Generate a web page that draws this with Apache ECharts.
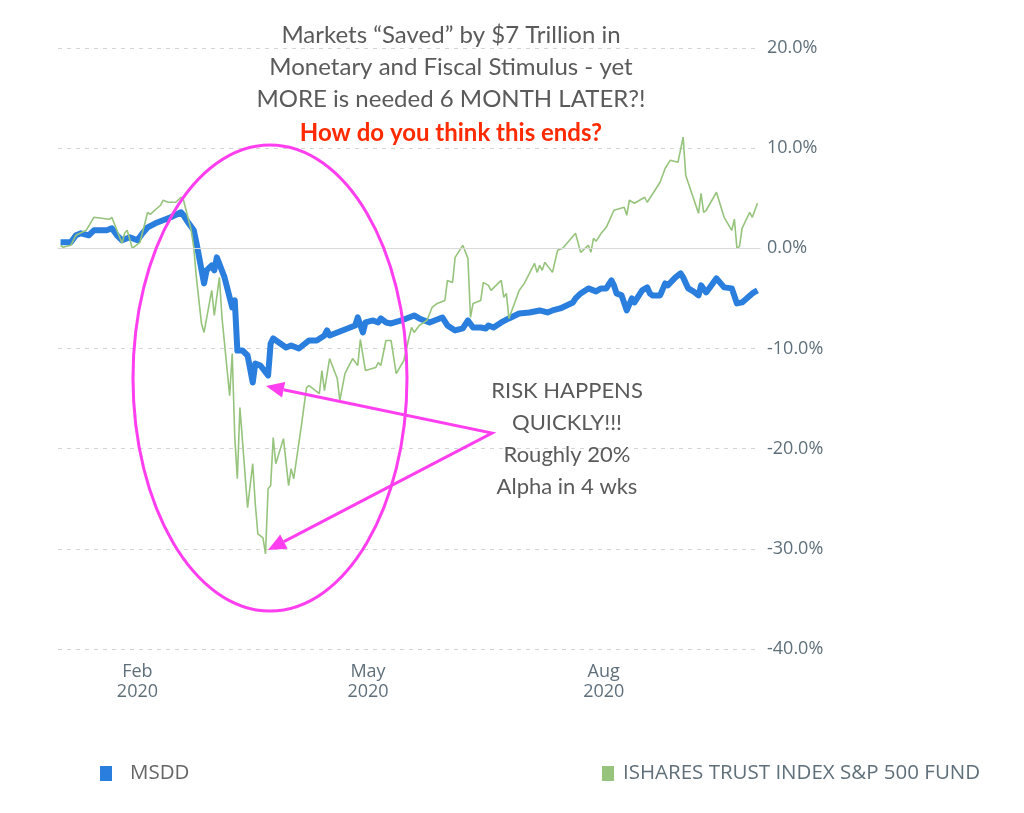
<!DOCTYPE html>
<html>
<head>
<meta charset="utf-8">
<title>MSDD vs S&amp;P 500 2020</title>
<script src="https://cdn.jsdelivr.net/npm/echarts@6/dist/echarts.min.js"></script>
<style>
  html, body { margin: 0; padding: 0; background: #fff; }
  #main { width: 1024px; height: 813px; }
</style>
</head>
<body>
<div id="main"></div>
<script>
// ===== 数据（从图上读取的估计值，单位 %） =====
const msddDates = ['01-02','01-06','01-08','01-10','01-13','01-15','01-20','01-22','01-24','01-26','01-29',
  '02-01','02-03','02-05','02-08','02-11','02-14','02-18','02-19','02-21','02-23','02-24','02-27','02-28',
  '03-01','03-02','03-03','03-06','03-08','03-09','03-10','03-11','03-13','03-15','03-17','03-18','03-20',
  '03-23','03-24','03-25','03-30','04-01','04-04','04-08','04-11','04-14','04-15','04-16','04-19','04-21',
  '04-24','04-26','04-27','04-29','04-30','05-03','05-05','05-06','05-08','05-10','05-14','05-17','05-19',
  '05-21','05-25','05-27','05-30','06-01','06-04','06-07','06-09','06-11','06-14','06-16','06-17','06-19',
  '06-22','06-25','06-29','07-03','07-07','07-10','07-12','07-15','07-20','07-21','07-23','07-26','07-29',
  '07-31','08-02','08-04','08-05','08-06','08-08','08-10','08-12','08-13','08-16','08-18','08-19','08-20',
  '08-23','08-25','08-26','08-29','08-31','09-01','09-03','09-05','09-07','09-08','09-10','09-14','09-17',
  '09-20','09-22','09-24','09-28','09-30'];
const msddValues = [0.6, 0.6, 1.3, 1.5, 1.3, 1.8, 1.8, 2.0, 1.3, 0.8, 1.1,
  0.8, 1.5, 2.1, 2.5, 2.8, 3.1, 3.6, 3.3, 2.5, 1.8, 0.6, -3.5, -2.2,
  -1.7, -2.2, -0.9, -2.9, -4.9, -5.9, -5.2, -10.2, -10.2, -10.7, -13.4, -11.5, -11.7,
  -12.7, -9.5, -9.0, -9.9, -9.7, -10.0, -9.2, -9.2, -8.7, -8.2, -8.7, -8.4, -8.2,
  -7.9, -7.7, -6.9, -8.4, -7.4, -7.2, -7.4, -7.0, -7.4, -7.5, -7.2, -6.9, -6.7,
  -7.0, -7.4, -7.2, -6.9, -7.7, -8.2, -8.0, -7.2, -7.9, -7.9, -8.0, -7.7, -7.9,
  -7.4, -7.0, -6.5, -6.4, -6.2, -6.4, -6.2, -6.0, -5.4, -5.0, -4.5, -4.0, -4.3,
  -4.0, -4.0, -3.2, -3.7, -4.5, -4.7, -6.2, -5.0, -5.4, -4.2, -3.9, -4.5, -4.7,
  -4.7, -3.5, -3.7, -2.9, -2.5, -2.9, -4.0, -4.3, -4.7, -3.7, -4.4, -3.0, -3.9,
  -4.0, -5.5, -5.4, -4.5, -4.2];

const spyDates = ['01-02','01-03','01-06','01-08','01-12','01-15','01-21','01-22','01-26','01-27','01-28','01-30',
  '02-02','02-05','02-06','02-10','02-11','02-13','02-16','02-18','02-19','02-22','02-23','02-24','02-26','02-27',
  '03-01','03-02','03-04','03-05','03-08','03-09','03-10','03-11','03-12','03-13','03-15','03-17','03-18','03-19',
  '03-21','03-22','03-23','03-24','03-25','03-26','03-29','03-31','04-01','04-02','04-05','04-07','04-08','04-12',
  '04-13','04-14','04-16','04-19','04-20','04-22','04-25','04-27','04-28','04-30','05-04','05-05','05-06','05-08',
  '05-10','05-12','05-15','05-17','05-18','05-19','05-21','05-24','05-26','05-28','05-31','06-01','06-03','06-04',
  '06-07','06-09','06-10','06-11','06-14','06-15','06-17','06-18','06-22','06-23','06-24','06-25','06-29','07-01',
  '07-03','07-05','07-06','07-07','07-08','07-09','07-12','07-14','07-16','07-21','07-23','07-26','07-27','07-28',
  '07-29','07-31','08-02','08-05','08-09','08-10','08-11','08-13','08-17','08-18','08-23','08-25','08-27','08-30',
  '09-01','09-02','09-07','09-08','09-09','09-10','09-14','09-17','09-20','09-21','09-22','09-23','09-24','09-27',
  '09-28','09-30'];
const spyValues = [0.3, 0.1, 0.3, 1.3, 1.8, 3.1, 2.9, 3.1, 0.5, 1.5, 1.8, 0.0,
  0.6, 3.6, 3.4, 4.3, 4.8, 4.6, 4.6, 5.1, 4.8, 1.8, 0.1, -2.9, -7.5, -8.4,
  -4.2, -6.7, -2.9, -6.9, -14.7, -10.5, -18.9, -23.0, -15.9, -19.2, -25.9, -21.5, -25.5, -28.5,
  -28.9, -30.5, -24.0, -23.7, -18.9, -21.5, -19.0, -23.7, -22.0, -23.0, -17.7, -13.9, -13.7, -14.5,
  -12.2, -14.2, -11.0, -13.0, -15.2, -12.5, -11.0, -11.7, -9.1, -12.2, -11.9, -11.4, -11.7, -9.2,
  -9.2, -12.5, -11.2, -8.9, -7.9, -8.4, -7.7, -7.2, -5.9, -5.5, -5.2, -3.2, -3.4, -0.9,
  0.3, -1.0, -6.9, -5.5, -5.2, -3.4, -3.7, -4.2, -3.2, -4.9, -4.5, -7.0, -4.2, -3.5,
  -2.5, -1.5, -2.4, -1.7, -2.2, -1.4, -2.4, -0.2, 0.0, 1.5, -0.4, 0.3, -0.4, 1.0,
  0.7, 1.5, 2.1, 3.8, 4.1, 3.3, 4.8, 4.5, 5.1, 4.6, 6.6, 8.0, 8.8, 8.6,
  11.1, 7.3, 3.5, 5.5, 3.6, 3.8, 5.6, 3.1, 1.8, 2.9, 0.0, 0.2, 2.0, 3.6,
  3.1, 4.5];

const tickDates = ['02-01', '05-01', '08-01'];
const tickLabels = ['Feb\n2020', 'May\n2020', 'Aug\n2020'];
const seriesNames = ['MSDD', 'ISHARES TRUST INDEX S&P 500 FUND'];

// 类目轴：2020-01-01 到 2020-10-01 的每一天
const days = [];
for (let t = Date.UTC(2020, 0, 1); t <= Date.UTC(2020, 9, 1); t += 86400000) {
  const d = new Date(t);
  days.push(String(d.getUTCMonth() + 1).padStart(2, '0') + '-' + String(d.getUTCDate()).padStart(2, '0'));
}

const pairs = (dates, values) => dates.map((d, i) => [d, values[i]]);

const axisColor = '#5f707b';
const pink = '#ff3fef';

const chart = echarts.init(document.getElementById('main'));
chart.setOption({
  animation: false,
  backgroundColor: '#fff',
  textStyle: { fontFamily: 'Open Sans' },
  title: {
    text: 'Markets \u201cSaved\u201d by $7 Trillion in\nMonetary and Fiscal Stimulus - yet\nMORE is needed 6 MONTH LATER?!',
    subtext: 'How do you think this ends?',
    left: 446,
    top: 14,
    textAlign: 'center',
    itemGap: 5,
    textStyle: { fontFamily: 'Lato', fontSize: 24, fontWeight: 'normal', color: '#5a5a5a', lineHeight: 32 },
    subtextStyle: { fontFamily: 'Lato', fontSize: 24, fontWeight: 'bold', color: '#ff2a00', lineHeight: 26 },
  },
  legend: [
    {
      data: [seriesNames[0]], left: 95, top: 758, icon: 'rect', itemWidth: 12, itemHeight: 15,
      textStyle: { fontSize: 20.5, color: '#666', padding: [0, 0, 0, 13] },
    },
    {
      data: [seriesNames[1]], left: 597, top: 758, icon: 'rect', itemWidth: 12, itemHeight: 15,
      textStyle: { fontSize: 20.5, color: axisColor, padding: [0, 0, 0, 4] },
    },
  ],
  grid: { left: 58, right: 264, top: 48, bottom: 164 },
  xAxis: {
    type: 'category',
    data: days,
    boundaryGap: false,
    axisLine: { lineStyle: { color: '#c8d3d9', width: 1 } },
    axisTick: { show: false },
    splitLine: { show: false },
    axisLabel: {
      interval: (idx, val) => tickDates.includes(val),
      formatter: (val) => tickLabels[tickDates.indexOf(val)] || '',
      color: axisColor, fontSize: 18, lineHeight: 20, margin: 13,
    },
  },
  yAxis: {
    type: 'value',
    position: 'right',
    min: -40, max: 20, interval: 10,
    axisLine: { show: false },
    axisTick: { show: false },
    axisLabel: { formatter: (v) => v.toFixed(1) + '%', color: axisColor, fontSize: 18, margin: 7 },
    splitLine: { lineStyle: { type: [4, 5], color: '#d4d4d4' } },
  },
  series: [
    {
      name: seriesNames[0], type: 'line',
      data: pairs(msddDates, msddValues),
      symbol: 'none',
      lineStyle: { width: 6, color: '#2a7ede', join: 'round' },
      itemStyle: { color: '#2a7ede' },
      markLine: {
        silent: true, symbol: 'none', label: { show: false },
        lineStyle: { type: 'solid', color: '#d9d9d9', width: 1 },
        data: [{ yAxis: 0 }],
      },
      z: 2,
    },
    {
      name: seriesNames[1], type: 'line',
      data: pairs(spyDates, spyValues),
      symbol: 'none',
      lineStyle: { width: 1.6, color: '#96c47c' },
      itemStyle: { color: '#96c47c' },
      z: 3,
    },
  ],
  graphic: [
    { type: 'ellipse', shape: { cx: 270, cy: 378, rx: 137, ry: 233 }, style: { fill: 'none', stroke: pink, lineWidth: 3 }, z: 10 },
    { type: 'polyline', shape: { points: [[283.6, 389.7], [492, 433], [283.9, 541.7]] }, style: { fill: 'none', stroke: pink, lineWidth: 3 }, z: 10 },
    { type: 'polygon', shape: { points: [[266, 386], [285.2, 381.9], [282, 397.5]] }, style: { fill: pink }, z: 10 },
    { type: 'polygon', shape: { points: [[268, 550], [287.6, 548.8], [280.2, 534.6]] }, style: { fill: pink }, z: 10 },
    {
      type: 'text', x: 567, y: 375, z: 10,
      style: {
        text: 'RISK HAPPENS\nQUICKLY!!!\nRoughly 20%\nAlpha in 4 wks',
        textAlign: 'center',
        font: '22px Lato', fill: '#5a5a5a', lineHeight: 32,
      },
    },
  ],
});
</script>
</body>
</html>
